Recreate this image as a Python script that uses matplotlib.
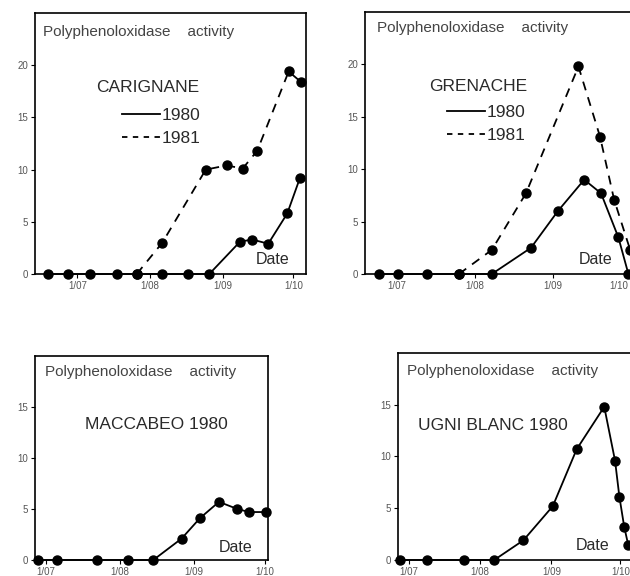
import matplotlib
matplotlib.use('Agg')
import matplotlib.pyplot as plt
from matplotlib.lines import Line2D

plt.rcParams['font.family'] = ['Liberation Sans', 'DejaVu Sans']

# days counted from 1 July
month_days = [0, 31, 62, 92]
month_labels = ['1/07', '1/08', '1/09', '1/10']

# CARIGNANE
car80_x = [-12.3, -4.0, 5.5, 17.1, 25.3, 36.2, 47.3, 56.2, 69.3, 74.5, 81.3, 89.4, 94.8]
car80_y = [0, 0, 0, 0, 0, 0, 0, 0, 3.1, 3.3, 2.9, 5.8, 9.2]
car81_x = [25.3, 36.2, 54.7, 63.6, 70.4, 76.6, 90.0, 95.2]
car81_y = [0, 3.0, 10.0, 10.4, 10.1, 11.8, 19.4, 18.4]

# GRENACHE
gre80_x = [-7.2, 0.4, 11.8, 24.6, 37.7, 53.3, 64.0, 74.5, 81.2, 88.1, 92.1]
gre80_y = [0, 0, 0, 0, 0, 2.5, 6.0, 9.0, 7.7, 3.5, 0]
gre81_x = [24.6, 37.7, 51.3, 72.2, 80.8, 86.4, 92.8]
gre81_y = [0, 2.3, 7.7, 19.8, 13.1, 7.1, 2.3]

# MACCABEO 1980
mac_x = [-3.3, 4.4, 21.5, 34.2, 45.0, 56.9, 64.6, 72.6, 80.3, 85.3, 92.3]
mac_y = [0, 0, 0, 0, 0, 2.1, 4.1, 5.7, 5.0, 4.7, 4.7]

# UGNI BLANC 1980
ugn_x = [-3.8, 7.8, 24.0, 37.1, 49.8, 62.6, 73.0, 85.0, 89.7, 91.6, 93.7, 95.5]
ugn_y = [0, 0, 0, 0, 1.9, 5.2, 10.7, 14.8, 9.6, 6.1, 3.2, 1.4]

fig = plt.figure(figsize=(6.3, 5.76), dpi=100)
txt = '#2a2a2a'


def setup(ax, xlim, ylim, yticks, title, tx, ty, ptx, pty):
    ax.set_xlim(xlim)
    ax.set_ylim(ylim)
    ax.set_xticks(month_days)
    ax.set_xticklabels(month_labels)
    ax.set_yticks(yticks)
    ax.tick_params(direction='out', length=3, width=0.8, labelsize=7,
                   labelcolor='#555555', pad=2)
    for s in ax.spines.values():
        s.set_linewidth(1.2)
    ax.text(ptx, pty, 'Polyphenoloxidase    activity', transform=ax.transAxes,
            fontsize=11, color='#444444', va='center', ha='left')
    ax.text(tx, ty, title, transform=ax.transAxes, fontsize=12.5,
            color=txt, ha='center', va='center')


def draw(ax, x, y, ls):
    ax.plot(x, y, color='black', lw=1.3, ls=ls, dashes=(5, 4) if ls == '--' else (None, None),
            clip_on=False)
    ax.plot(x, y, 'o', color='black', ms=6.5, clip_on=False, zorder=3)


ax1 = fig.add_axes([0.0556, 0.5243, 0.4302, 0.4531])
draw(ax1, car81_x, car81_y, '--')
draw(ax1, car80_x, car80_y, '-')
setup(ax1, (-18, 97.4), (0, 25), [0, 5, 10, 15, 20], 'CARIGNANE', 0.417, 0.716, 0.03, 0.927)
ax1.text(0.875, 0.04, 'Date', transform=ax1.transAxes, fontsize=11.5, color=txt, ha='center')

ax2 = fig.add_axes([0.5794, 0.5243, 0.4376, 0.4549])
draw(ax2, gre81_x, gre81_y, '--')
draw(ax2, gre80_x, gre80_y, '-')
setup(ax2, (-12.8, 97), (0, 25), [0, 5, 10, 15, 20], 'GRENACHE', 0.41, 0.716, 0.042, 0.94)
ax2.text(0.835, 0.04, 'Date', transform=ax2.transAxes, fontsize=11.5, color=txt, ha='center')
ax2.get_xticklabels()[-1].set_ha('right')

for ax, bx, by in [(ax1, 0.465, 0.563), (ax2, 0.44, 0.572)]:
    h = [Line2D([], [], color='black', lw=1.3),
         Line2D([], [], color='black', lw=1.3, ls='--', dashes=(3, 3))]
    ax.legend(h, ['1980', '1981'], loc='center', bbox_to_anchor=(bx, by),
              frameon=False, fontsize=12.5, handlelength=2.2, handletextpad=0.1,
              labelspacing=0.45, labelcolor=txt)

ax3 = fig.add_axes([0.0556, 0.0278, 0.3698, 0.3542])
draw(ax3, mac_x, mac_y, '-')
setup(ax3, (-4.7, 93.2), (0, 20), [0, 5, 10, 15], 'MACCABEO 1980', 0.522, 0.662, 0.043, 0.919)
ax3.text(0.86, 0.04, 'Date', transform=ax3.transAxes, fontsize=11.5, color=txt, ha='center')

ax4 = fig.add_axes([0.6317, 0.0278, 0.3821, 0.3594])
draw(ax4, ugn_x, ugn_y, '-')
setup(ax4, (-4.8, 100), (0, 20), [0, 5, 10, 15], 'UGNI BLANC 1980', 0.395, 0.652, 0.036, 0.912)
ax4.text(0.81, 0.05, 'Date', transform=ax4.transAxes, fontsize=11.5, color=txt, ha='center')

plt.savefig('out.png', dpi=100)
